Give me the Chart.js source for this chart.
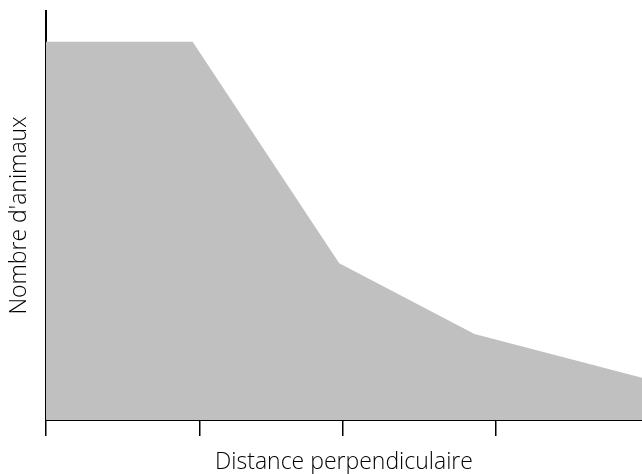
<!DOCTYPE html>
<html>
<head>
<meta charset="utf-8">
<script src="https://cdn.jsdelivr.net/npm/chart.js@4/dist/chart.umd.min.js"></script>
<style>
  html, body { margin: 0; padding: 0; background: #fff; }
  #wrap { width: 642px; height: 474px; }
</style>
</head>
<body>
<div id="wrap"><canvas id="chart" width="642" height="474"></canvas></div>
<script>
// Values (relative units, axis runs 0..100)
var distances = [0, 24.6, 49.2, 71.9, 100];
var animals = [92.5, 92.5, 38.3, 21.0, 10.3];
var tickValues = [0, 25.8, 49.8, 75.5];

var xTitle = 'Distance perpendiculaire';
var yTitle = "Nombre d'animaux";

var points = distances.map(function (d, i) { return { x: d, y: animals[i] }; });

var titleFont = { family: 'Open Sans', size: 23, weight: '300', lineHeight: 1.2 };

var ctx = document.getElementById('chart').getContext('2d');
new Chart(ctx, {
  type: 'line',
  data: {
    datasets: [{
      data: points,
      fill: 'origin',
      backgroundColor: '#c0c0c0',
      borderWidth: 0,
      pointRadius: 0,
      tension: 0
    }]
  },
  options: {
    responsive: false,
    animation: false,
    devicePixelRatio: 1,
    layout: { padding: { top: 11, right: 0, left: 0, bottom: 0 } },
    plugins: { legend: { display: false }, tooltip: { enabled: false } },
    scales: {
      x: {
        type: 'linear',
        min: 0,
        max: 100,
        afterBuildTicks: function (scale) {
          scale.ticks = tickValues.map(function (v) { return { value: v }; });
        },
        afterFit: function (scale) { scale.height = 54; },
        grid: { display: true, drawOnChartArea: false, drawTicks: true, tickLength: 16, color: '#000', lineWidth: 1.5 },
        border: { display: true, color: '#000', width: 2 },
        ticks: { display: false },
        title: {
          display: true,
          text: xTitle,
          color: '#000',
          font: titleFont,
          padding: { top: 0, bottom: -2 }
        }
      },
      y: {
        min: 0,
        max: 100,
        afterFit: function (scale) { scale.width = 46; },
        grid: { display: false },
        border: { display: true, color: '#000', width: 2 },
        ticks: { display: false },
        title: {
          display: true,
          text: yTitle,
          color: '#000',
          font: titleFont,
          padding: { top: 6, bottom: 0 }
        }
      }
    }
  }
});
</script>
</body>
</html>
